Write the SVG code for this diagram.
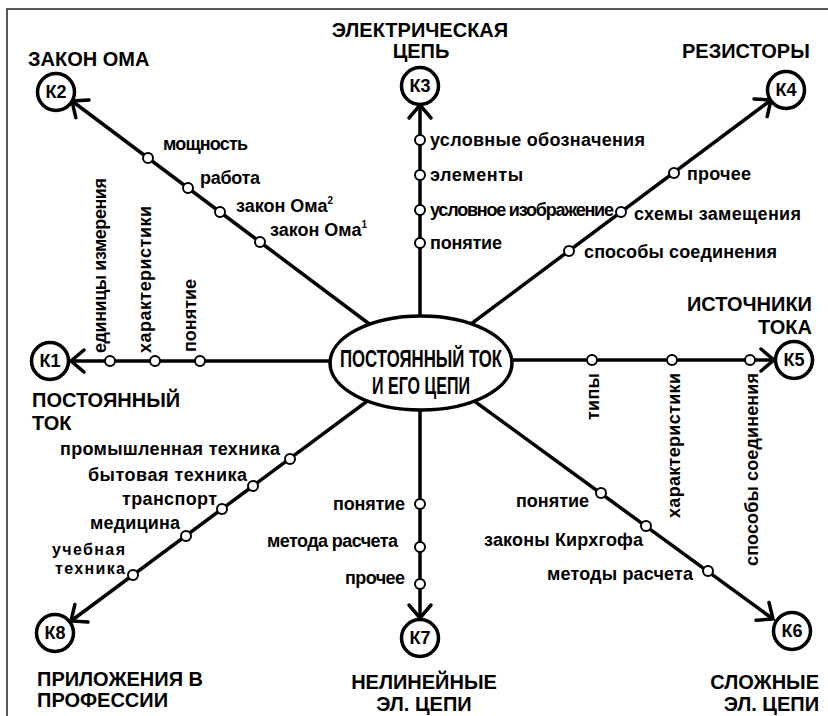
<svg xmlns="http://www.w3.org/2000/svg" width="828" height="716" viewBox="0 0 828 716">
<defs>
<marker id="arr" markerUnits="userSpaceOnUse" markerWidth="30" markerHeight="30" viewBox="-20 -15 25 30" refX="0" refY="0" orient="auto">
<path d="M -13 -11 L 0 0 L -13 11" fill="none" stroke="#000" stroke-width="3.5" stroke-linecap="round" stroke-linejoin="miter"/>
</marker>
</defs>
<style>
.ln{stroke:#000;stroke-width:3.5;fill:none;marker-end:url(#arr)}
.nd{fill:#fff;stroke:#000;stroke-width:2}
.kc{fill:#fff;stroke:#000;stroke-width:3.5}
.kt{font-family:"Liberation Sans",Arial,sans-serif;font-weight:bold;font-size:18px;text-anchor:middle}
.hd{font-family:"Liberation Sans",Arial,sans-serif;font-weight:bold;font-size:20px}
.lb{font-family:"Liberation Sans",Arial,sans-serif;font-weight:bold;font-size:18px}
.sm{font-size:16px}
.sup{font-size:10px}
.frame{stroke:#222;stroke-width:1.5;fill:none}
</style>
<rect width="828" height="716" fill="#fff"/>
<path class="frame" d="M 7 716 L 7 9 L 828 9"/>

<g id="connectors">
<line class="ln" x1="330" y1="361" x2="71" y2="361"/>
<line class="ln" x1="512" y1="360" x2="774" y2="360"/>
<line class="ln" x1="420" y1="318" x2="420" y2="105"/>
<line class="ln" x1="420" y1="410" x2="420" y2="618"/>
<line class="ln" x1="420" y1="362" x2="72" y2="101"/>
<line class="ln" x1="420" y1="362" x2="771" y2="100"/>
<line class="ln" x1="418" y1="360" x2="773" y2="619"/>
<line class="ln" x1="420" y1="362" x2="71" y2="621"/>
</g>

<g id="center">
<ellipse cx="421" cy="363" rx="91" ry="47" fill="#fff" stroke="#000" stroke-width="3.5"/>
<text x="421" y="367" text-anchor="middle" font-family="Liberation Sans, Arial, sans-serif" font-weight="bold" font-size="23" textLength="162" lengthAdjust="spacingAndGlyphs">ПОСТОЯННЫЙ ТОК</text>
<text x="421" y="394" text-anchor="middle" font-family="Liberation Sans, Arial, sans-serif" font-weight="bold" font-size="23" textLength="98" lengthAdjust="spacingAndGlyphs">И ЕГО ЦЕПИ</text>
</g>

<g id="k1">
<circle class="kc" cx="50" cy="361" r="18.5"/>
<text class="kt" x="50" y="367">К1</text>
<text class="hd" x="32" y="407">ПОСТОЯННЫЙ</text>
<text class="hd" x="32" y="430">ТОК</text>
<circle class="nd" cx="110" cy="361" r="5"/>
<circle class="nd" cx="155" cy="361" r="5"/>
<circle class="nd" cx="200" cy="361" r="5"/>
<text class="lb" transform="translate(106,353) rotate(-90)" textLength="175">единицы измерения</text>
<text class="lb" transform="translate(151,353) rotate(-90)" textLength="147">характеристики</text>
<text class="lb" transform="translate(196,352) rotate(-90)">понятие</text>
</g>

<g id="k2">
<circle class="kc" cx="56" cy="92" r="18.5"/>
<text class="kt" x="56" y="98">К2</text>
<text class="hd" x="28" y="66">ЗАКОН ОМА</text>
<circle class="nd" cx="148" cy="158" r="5"/>
<circle class="nd" cx="188" cy="188" r="5"/>
<circle class="nd" cx="220" cy="212" r="5"/>
<circle class="nd" cx="260" cy="242" r="5"/>
<text class="lb" x="163" y="150" textLength="85">мощность</text>
<text class="lb" x="200" y="184" textLength="60">работа</text>
<text class="lb" x="236" y="212">закон Ома<tspan class="sup" dy="-8">2</tspan></text>
<text class="lb" x="270" y="236">закон Ома<tspan class="sup" dy="-8">1</tspan></text>
</g>

<g id="k3">
<circle class="kc" cx="420" cy="86" r="18.5"/>
<text class="kt" x="420" y="92">К3</text>
<text class="hd" x="420" y="37" text-anchor="middle">ЭЛЕКТРИЧЕСКАЯ</text>
<text class="hd" x="421" y="58" text-anchor="middle">ЦЕПЬ</text>
<circle class="nd" cx="420" cy="140" r="5"/>
<circle class="nd" cx="420" cy="175" r="5"/>
<circle class="nd" cx="420" cy="210" r="5"/>
<circle class="nd" cx="420" cy="243" r="5"/>
<text class="lb" x="430" y="146" textLength="215">условные обозначения</text>
<text class="lb" x="430" y="181" textLength="93">элементы</text>
<text class="lb" x="430" y="216" textLength="184">условное изображение</text>
<text class="lb" x="430" y="249" textLength="72">понятие</text>
</g>

<g id="k4">
<circle class="kc" cx="786" cy="90" r="18.5"/>
<text class="kt" x="786" y="96">К4</text>
<text class="hd" x="682" y="58">РЕЗИСТОРЫ</text>
<circle class="nd" cx="674" cy="173" r="5"/>
<circle class="nd" cx="621" cy="212" r="5"/>
<circle class="nd" cx="569" cy="251" r="5"/>
<text class="lb" x="687" y="180" textLength="64">прочее</text>
<text class="lb" x="634" y="220" textLength="167">схемы замещения</text>
<text class="lb" x="584" y="258" textLength="193">способы соединения</text>
</g>

<g id="k5">
<circle class="kc" cx="794" cy="360" r="18.5"/>
<text class="kt" x="794" y="366">К5</text>
<text class="hd" x="812" y="311" text-anchor="end">ИСТОЧНИКИ</text>
<text class="hd" x="812" y="334" text-anchor="end">ТОКА</text>
<circle class="nd" cx="592" cy="360" r="5"/>
<circle class="nd" cx="672" cy="360" r="5"/>
<circle class="nd" cx="750" cy="360" r="5"/>
<text class="lb" text-anchor="end" transform="translate(599,373) rotate(-90)" textLength="47">типы</text>
<text class="lb" text-anchor="end" transform="translate(680,373) rotate(-90)" textLength="145">характеристики</text>
<text class="lb" text-anchor="end" transform="translate(758,373) rotate(-90)" textLength="193">способы соединения</text>
</g>

<g id="k6">
<circle class="kc" cx="792" cy="631" r="18.5"/>
<text class="kt" x="792" y="637">К6</text>
<text class="hd" x="819" y="689" text-anchor="end">СЛОЖНЫЕ</text>
<text class="hd" x="819" y="711" text-anchor="end">ЭЛ. ЦЕПИ</text>
<circle class="nd" cx="601" cy="493" r="5"/>
<circle class="nd" cx="646" cy="526" r="5"/>
<circle class="nd" cx="708" cy="571" r="5"/>
<text class="lb" x="589" y="507" text-anchor="end" textLength="73">понятие</text>
<text class="lb" x="643" y="546" text-anchor="end" textLength="159">законы Кирхгофа</text>
<text class="lb" x="693" y="580" text-anchor="end" textLength="146">методы расчета</text>
</g>

<g id="k7">
<circle class="kc" cx="420" cy="638" r="18.5"/>
<text class="kt" x="420" y="644">К7</text>
<text class="hd" x="424" y="689" text-anchor="middle">НЕЛИНЕЙНЫЕ</text>
<text class="hd" x="424" y="711" text-anchor="middle">ЭЛ. ЦЕПИ</text>
<circle class="nd" cx="420" cy="504" r="5"/>
<circle class="nd" cx="420" cy="547" r="5"/>
<circle class="nd" cx="420" cy="584" r="5"/>
<text class="lb" x="405" y="510" text-anchor="end" textLength="72">понятие</text>
<text class="lb" x="398" y="547" text-anchor="end" textLength="131">метода расчета</text>
<text class="lb" x="405" y="584" text-anchor="end" textLength="60">прочее</text>
</g>

<g id="k8">
<circle class="kc" cx="55" cy="633" r="18.5"/>
<text class="kt" x="55" y="639">К8</text>
<text class="hd" x="37" y="686">ПРИЛОЖЕНИЯ В</text>
<text class="hd" x="37" y="707">ПРОФЕССИИ</text>
<circle class="nd" cx="290" cy="459" r="5"/>
<circle class="nd" cx="253" cy="486" r="5"/>
<circle class="nd" cx="222" cy="509" r="5"/>
<circle class="nd" cx="186" cy="536" r="5"/>
<circle class="nd" cx="133" cy="575" r="5"/>
<text class="lb" x="280" y="455" text-anchor="end" textLength="220">промышленная техника</text>
<text class="lb" x="247" y="481" text-anchor="end" textLength="159">бытовая техника</text>
<text class="lb" x="217" y="505" text-anchor="end" textLength="95">транспорт</text>
<text class="lb" x="180" y="529" text-anchor="end" textLength="90">медицина</text>
<text class="lb sm" x="125" y="555" text-anchor="end" textLength="73">учебная</text>
<text class="lb sm" x="125" y="574" text-anchor="end" textLength="70">техника</text>
</g>
</svg>
